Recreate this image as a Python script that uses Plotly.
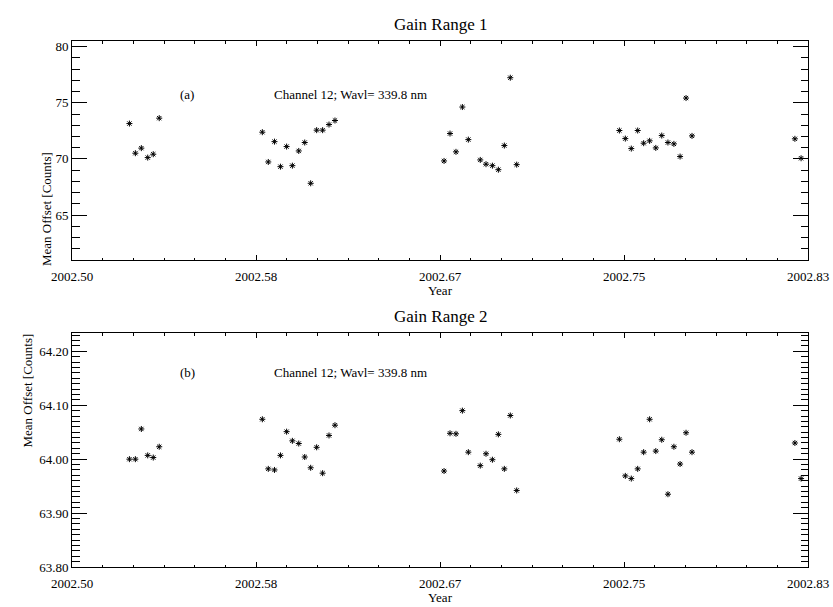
import plotly.graph_objects as go

# Decimal-year dates (shared by both gain ranges)
years = [
    2002.5260, 2002.5287, 2002.5314, 2002.5343, 2002.5368, 2002.5395,
    2002.5862, 2002.5889, 2002.5917, 2002.5944, 2002.5972, 2002.5998, 2002.6027,
    2002.6054, 2002.6081, 2002.6108, 2002.6135, 2002.6164, 2002.6191,
    2002.6685, 2002.6712, 2002.6739, 2002.6768, 2002.6795, 2002.6849, 2002.6875,
    2002.6904, 2002.6931, 2002.6958, 2002.6985, 2002.7014,
    2002.7479, 2002.7506, 2002.7533, 2002.7562, 2002.7589, 2002.7616, 2002.7644,
    2002.7671, 2002.7699, 2002.7726, 2002.7754, 2002.7781, 2002.7808,
    2002.8274, 2002.8302,
]

offset_gain1 = [
    73.15, 70.51, 70.96, 70.12, 70.42, 73.63,
    72.38, 69.73, 71.54, 69.31, 71.10, 69.40, 70.71, 71.46, 67.83, 72.56, 72.56, 73.06, 73.42,
    69.82, 72.26, 70.63, 74.62, 71.72, 69.91, 69.53, 69.40, 69.04, 71.19, 77.23, 69.49,
    72.53, 71.81, 70.92, 72.53, 71.40, 71.61, 70.98, 72.08, 71.46, 71.34, 70.21, 75.42, 72.05,
    71.79, 70.06,
]

offset_gain2 = [
    64.000, 64.000, 64.056, 64.007, 64.003, 64.023,
    64.074, 63.982, 63.980, 64.007, 64.051, 64.034, 64.029, 64.004, 63.984, 64.022, 63.974, 64.044, 64.063,
    63.978, 64.048, 64.047, 64.090, 64.013, 63.988, 64.010, 63.999, 64.046, 63.982, 64.081, 63.942,
    64.037, 63.969, 63.964, 63.982, 64.013, 64.074, 64.015, 64.036, 63.935, 64.023, 63.991, 64.049, 64.013,
    64.030, 63.964,
]

x_tickvals = [2002.5, 2002.5 + 1 / 12, 2002.5 + 2 / 12, 2002.75, 2002.5 + 4 / 12]
x_ticktext = ["2002.50", "2002.58", "2002.67", "2002.75", "2002.83"]
y1_tickvals = [65, 70, 75, 80]
y2_tickvals = [63.80, 63.90, 64.00, 64.10, 64.20]
y2_ticktext = ["63.80", "63.90", "64.00", "64.10", "64.20"]

W, H = 833, 607
FONT = "Liberation Serif"


def px_x(p):
    return p / W


def px_y(p):
    return 1 - p / H


X0, X1 = 72, 808
A_TOP, A_BOT = 41, 260
B_TOP, B_BOT = 333, 567

marker = dict(symbol="asterisk-open", size=5, color="black", line=dict(color="black", width=1))

fig = go.Figure()
fig.add_trace(go.Scatter(x=years, y=offset_gain1, mode="markers", marker=marker,
                         xaxis="x", yaxis="y", showlegend=False))
fig.add_trace(go.Scatter(x=years, y=offset_gain2, mode="markers", marker=marker,
                         xaxis="x2", yaxis="y2", showlegend=False))

xrange = [2002.5, 2002.5 + 4 / 12]
tickfont = dict(family=FONT, size=13, color="black")

common_x = dict(range=xrange, tickmode="array", tickvals=x_tickvals, ticktext=x_ticktext,
                ticks="inside", ticklen=5, tickwidth=1, tickcolor="black",
                showline=True, linecolor="black", linewidth=1, mirror="ticks",
                showgrid=False, zeroline=False, tickfont=tickfont, automargin=False,
                ticklabelstandoff=4,
                minor=dict(ticks="inside", ticklen=2.5, tickcolor="black", tickwidth=1,
                           tick0=2002.5, dtick=1 / 72, showgrid=False),
                domain=[px_x(X0), px_x(X1)])
common_y = dict(ticks="inside", ticklen=15, tickwidth=1, tickcolor="black",
                showline=True, linecolor="black", linewidth=1, mirror="ticks",
                showgrid=False, zeroline=False, tickfont=tickfont, automargin=False)

fig.update_layout(
    template="none",
    width=W, height=H,
    margin=dict(l=0, r=0, t=0, b=0, pad=0),
    paper_bgcolor="white", plot_bgcolor="white",
    xaxis=dict(anchor="y", **common_x),
    yaxis=dict(anchor="x", domain=[px_y(A_BOT), px_y(A_TOP)], range=[61.0, 80.5],
               tickmode="array", tickvals=y1_tickvals,
               minor=dict(ticks="inside", ticklen=7.5, tickcolor="black", tickwidth=1,
                          tick0=60, dtick=1, showgrid=False),
               **common_y),
    xaxis2=dict(anchor="y2", **common_x),
    yaxis2=dict(anchor="x2", domain=[px_y(B_BOT), px_y(B_TOP)], range=[63.80, 64.234],
                tickmode="array", tickvals=y2_tickvals, ticktext=y2_ticktext,
                minor=dict(ticks="inside", ticklen=7.5, tickcolor="black", tickwidth=1,
                           tick0=63.8, dtick=0.01, showgrid=False),
                **common_y),
)

ann_font = dict(family=FONT, size=13, color="black")
title_font = dict(family=FONT, size=17, color="black")
cx = px_x((X0 + X1) / 2)
anns = [
    dict(text="Gain Range 1", x=cx, y=px_y(A_TOP - 5), yanchor="bottom", font=title_font),
    dict(text="Gain Range 2", x=cx, y=px_y(B_TOP - 5), yanchor="bottom", font=title_font),
    dict(text="Year", x=cx, y=px_y(A_BOT + 21), yanchor="top", font=ann_font),
    dict(text="Year", x=cx, y=px_y(B_BOT + 21), yanchor="top", font=ann_font),
    dict(text="Mean Offset [Counts]", x=px_x(37), y=px_y((A_TOP + A_BOT) / 2), textangle=-90,
         font=ann_font),
    dict(text="Mean Offset [Counts]", x=px_x(17), y=px_y((B_TOP + B_BOT) / 2), textangle=-90,
         font=ann_font),
    dict(text="(a)", x=px_x(178), y=px_y(85), xanchor="left", font=ann_font),
    dict(text="Channel 12; Wavl= 339.8 nm", x=px_x(272), y=px_y(85), xanchor="left", font=ann_font),
    dict(text="(b)", x=px_x(178), y=px_y(372), xanchor="left", font=ann_font),
    dict(text="Channel 12; Wavl= 339.8 nm", x=px_x(272), y=px_y(372), xanchor="left", font=ann_font),
]
for a in anns:
    a.update(xref="paper", yref="paper", showarrow=False)
fig.update_layout(annotations=anns)

fig.write_html("out.html")
